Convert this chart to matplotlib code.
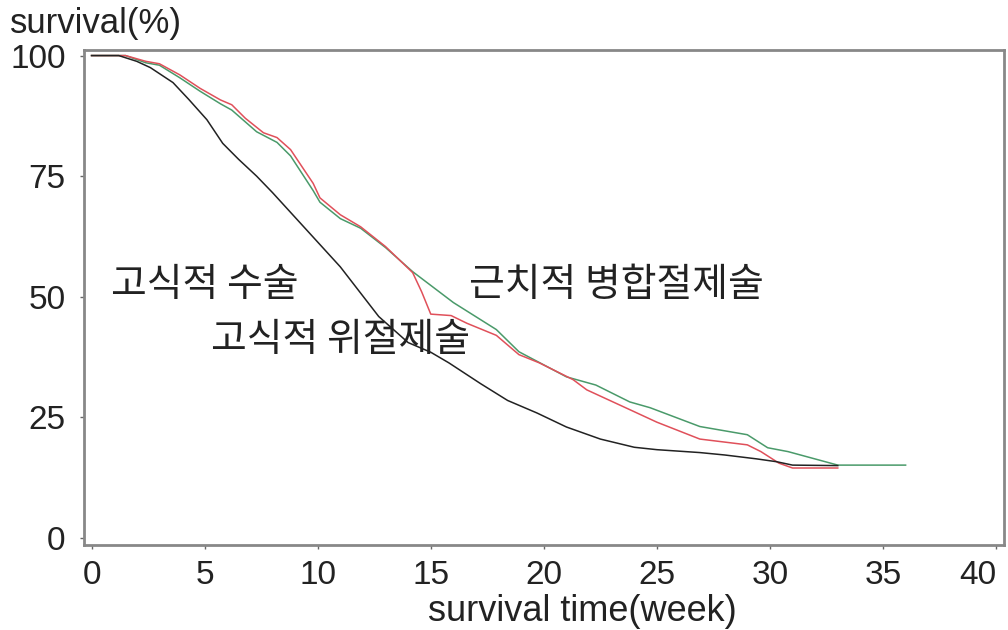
import numpy as np
import matplotlib
matplotlib.use("Agg")
import matplotlib.pyplot as plt

plt.rcParams['font.family'] = ['Liberation Sans', 'Noto Sans CJK KR', 'DejaVu Sans']

# black curve
wk_black = [0, 1.2, 2, 2.6, 3.6, 4.3, 5.1, 5.8, 6.5, 7.3, 8, 9.5, 11, 12.7, 14, 15, 15.8,
            17.2, 18.4, 19.7, 21, 22.5, 24, 25, 26.9, 28, 29.4, 30.3, 31, 33]
sv_black = [100, 100, 98.8, 97.5, 94.4, 90.9, 86.7, 81.8, 78.5, 75, 71.6, 63.9, 56.2, 45.9, 40.5, 38.5, 36.3,
            32, 28.5, 25.9, 23, 20.5, 18.8, 18.3, 17.7, 17.2, 16.4, 15.8, 15.1, 15]

# red curve
wk_red = [0, 1.5, 2.4, 3, 3.9, 4.8, 5.7, 6.2, 6.8, 7.6, 8.2, 8.8, 9.8, 10.1, 11, 11.9, 13, 14.2,
          14.6, 15.0, 15.9, 16.6, 17.9, 18.9, 19.8, 21.3, 21.9, 23.8, 25, 26.9, 29, 29.6, 30.4, 31, 33]
sv_red = [100, 100, 98.8, 98.3, 96, 93.2, 90.8, 89.8, 87, 84, 83, 80.5, 73.5, 70.5, 67, 64.5, 60.4, 55,
          51, 46.4, 46.1, 44.5, 42, 38, 36.3, 32.8, 30.7, 26.6, 24, 20.5, 19.3, 17.9, 15.5, 14.5, 14.5]

# green curve
wk_green = [0, 1.5, 2.4, 3, 3.9, 4.8, 5.7, 6.2, 7.3, 8.2, 8.8, 9.8, 10.1, 11, 11.9, 13, 14.2,
            16, 17.9, 18.9, 21, 22.3, 23.8, 24.7, 26.9, 29, 29.9, 30.8, 33, 36]
sv_green = [100, 100, 98.5, 98, 95.4, 92.6, 90, 88.7, 84.2, 82, 79.2, 72, 69.6, 66.2, 64.2, 60.2, 55.2,
            48.8, 43.2, 38.6, 33.4, 31.7, 28.2, 27, 23.1, 21.4, 18.7, 17.9, 15.1, 15.1]

labels = ["고식적 수술", "고식적 위절제술", "근치적 병합절제술"]
label_x = [5.0, 11.0, 23.2]
label_y = [52.5, 41.1, 52.5]

fig = plt.figure(figsize=(10.08, 6.30), dpi=100)
ax = fig.add_axes([0.083, 0.135, 0.913, 0.786])

ax.plot(wk_green, sv_green, color="#4a9a6a", lw=1.1)
ax.plot(wk_red, sv_red, color="#e0505a", lw=1.1)
ax.plot(wk_black, sv_black, color="#222222", lw=1.1)

for t, x, y in zip(labels, label_x, label_y):
    ax.text(x, y, t, fontsize=28, ha="center", va="center", color="#222222",
            family=['Noto Sans CJK KR', 'DejaVu Sans'])

ax.set_xlim(-0.35, 40.35)
ax.set_ylim(-1.45, 101.2)
ax.set_xticks([0, 5, 10, 15, 20, 25, 30, 35, 40])
ax.set_yticks([0, 25, 50, 75, 100])
ax.tick_params(labelsize=24, length=3, width=1, color="#666666", labelcolor="#222222")
ax.tick_params(axis="x", pad=8)
ax.tick_params(axis="y", pad=10)
ax.get_xticklabels()[-1].set_ha("right")
for s in ax.spines.values():
    s.set_color("#888888")
    s.set_linewidth(2)

fig.text(0.01, 0.962, "survival(%)", fontsize=25, ha="left", va="center", color="#222222")
fig.text(0.578, 0.03, "survival time(week)", fontsize=26, ha="center", va="center", color="#222222")

fig.savefig("out.png", dpi=100, facecolor="white")
